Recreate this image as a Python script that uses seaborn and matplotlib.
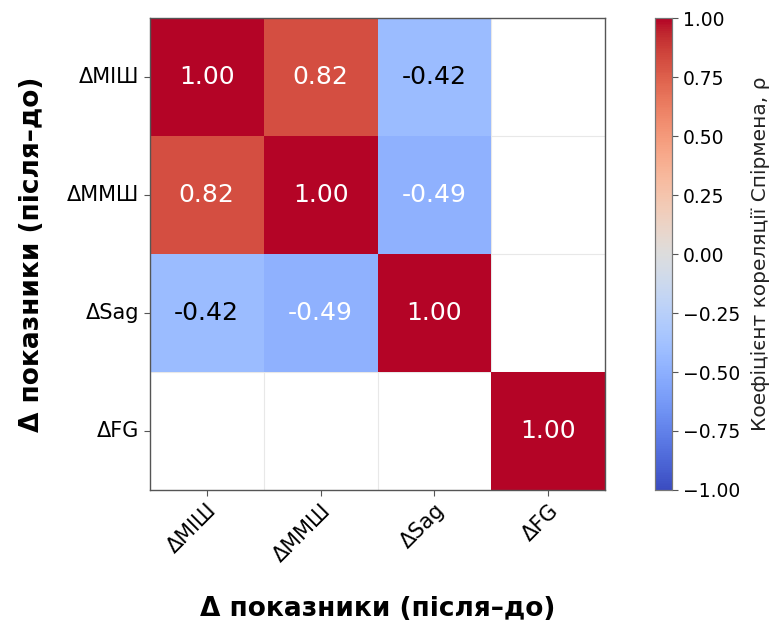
import numpy as np
import pandas as pd
import matplotlib
matplotlib.use("Agg")
import matplotlib.pyplot as plt
import seaborn as sns

labels = ["ΔMIШ", "ΔMMШ", "ΔSag", "ΔFG"]
row_miш = [1.00, 0.82, -0.42, np.nan]
row_mmш = [0.82, 1.00, -0.49, np.nan]
row_sag = [-0.42, -0.49, 1.00, np.nan]
row_fg = [np.nan, np.nan, np.nan, 1.00]
cbar_ticks = [-1, -0.75, -0.5, -0.25, 0, 0.25, 0.5, 0.75, 1.0]

df = pd.DataFrame([row_miш, row_mmш, row_sag, row_fg], index=labels, columns=labels)

sns.set_style("white")
plt.rcParams['font.family'] = ['DejaVu Sans']
plt.rcParams['text.color'] = 'black'
plt.rcParams['axes.labelcolor'] = 'black'
plt.rcParams['xtick.color'] = 'black'
plt.rcParams['ytick.color'] = 'black'

fig = plt.figure(figsize=(7.72, 6.23), dpi=100)
ax = fig.add_axes([0.194, 0.2135, 0.590, 0.7575])
cax = fig.add_axes([0.848, 0.2135, 0.023, 0.7575])

sns.heatmap(df, ax=ax, cbar_ax=cax, cmap="coolwarm", vmin=-1, vmax=1,
            annot=True, fmt=".2f", annot_kws={"size": 18}, square=False,
            cbar_kws={"label": "Коефіцієнт кореляції Спірмена, ρ"})

# faint grid at cell boundaries (visible only in empty cells)
ax.set_xticks([1, 2, 3], minor=True)
ax.set_yticks([1, 2, 3], minor=True)
ax.tick_params(which="minor", length=0)
ax.grid(which="minor", color="#e8e8e8", linewidth=0.8)
ax.grid(which="major", visible=False)
ax.set_axisbelow(True)
for c in ax.collections:
    c.set_zorder(2)
for t in ax.texts:
    t.set_zorder(3)
    v = float(t.get_text())
    t.set_color("white" if abs(v) > 0.45 else "black")

for s in ax.spines.values():
    s.set_visible(True)
    s.set_color("#555555")
    s.set_linewidth(1.0)

ax.tick_params(axis="both", which="major", length=4, width=0.8, color="#555555",
               labelsize=15, left=True, bottom=True)
ax.set_xticklabels(labels, rotation=45, ha="right", rotation_mode="anchor")
ax.set_yticklabels(labels, rotation=0)
ax.set_xlabel("Δ показники (після–до)", fontsize=19, fontweight="bold", labelpad=22)
ax.set_ylabel("Δ показники (після–до)", fontsize=19, fontweight="bold", labelpad=16)

cax.set_yticks(cbar_ticks)
cax.set_yticklabels([f"{v:.2f}".replace("-", "\u2212") for v in cbar_ticks])
cax.tick_params(labelsize=13.5, length=4, width=0.8, color="#555555")
cax.yaxis.label.set_size(14.5)
cax.yaxis.label.set_color("#222222")
cax.yaxis.labelpad = 8
for s in cax.spines.values():
    s.set_visible(True)
    s.set_color("#777777")
    s.set_linewidth(0.8)

fig.savefig("out.png", dpi=100)
